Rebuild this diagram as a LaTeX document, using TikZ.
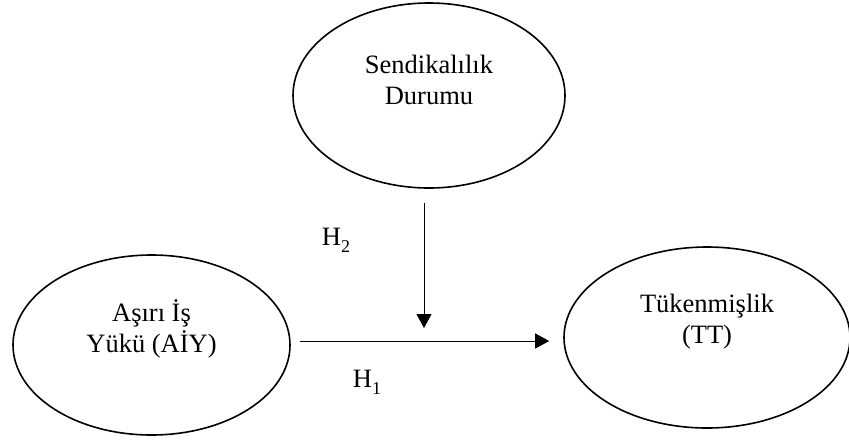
\documentclass[tikz,border=0pt]{standalone}
\usepackage{fontspec}
\setmainfont{Liberation Serif}
\usepackage{tikz}
\usetikzlibrary{positioning, arrows.meta, calc, shapes}
\newcommand{\hsub}[1]{\raisebox{-3.4pt}{\fontsize{9pt}{9pt}\selectfont #1}}

\begin{document}
\begin{tikzpicture}[x=0.5pt,y=-0.5pt,->,>={Triangle[length=7pt,width=7.5pt]},line width=.5pt,
  ell/.style={draw, ellipse, line width=.8pt, inner sep=0pt},
  lbl/.style={align=center, inner sep=0pt, font=\fontsize{13.25pt}{15.5pt}\selectfont},
  hyp/.style={inner sep=0pt, font=\fontsize{13.25pt}{15.5pt}\selectfont}]
  \useasboundingbox (0,0) rectangle (849,440);
  % constructs
  \node[ell, minimum width=136pt, minimum height=92.5pt] (sd) at (429,95.5) {};
  \node[ell, minimum width=138.5pt, minimum height=90pt] (aiy) at (151.5,345) {};
  \node[ell, minimum width=143pt, minimum height=90.5pt] (tt) at (707,337.5) {};
  \node[lbl] (sdtext) at ([yshift=8pt]sd.center) {Sendikalılık\\Durumu};
  \node[lbl] (aiytext) at ([yshift=8pt]aiy.center) {Aşırı İş\\Yükü (AİY)};
  \node[lbl] (tttext) at ([yshift=8pt]tt.center) {Tükenmişlik\\(TT)};
  % paths
  \coordinate (mod) at (424,328);
  \draw ([xshift=4.5pt,yshift=2pt]aiy.east) -- ([xshift=-7pt,yshift=2pt]aiy.east -| tt.west);
  \draw ([xshift=-2.5pt,yshift=-7pt]sd.south) -- (mod);
  \node[hyp] (h2) at (336,240) {H\hsub{2}};
  \node[hyp] (h1) at (367,382) {H\hsub{1}};
\end{tikzpicture}
\end{document}
